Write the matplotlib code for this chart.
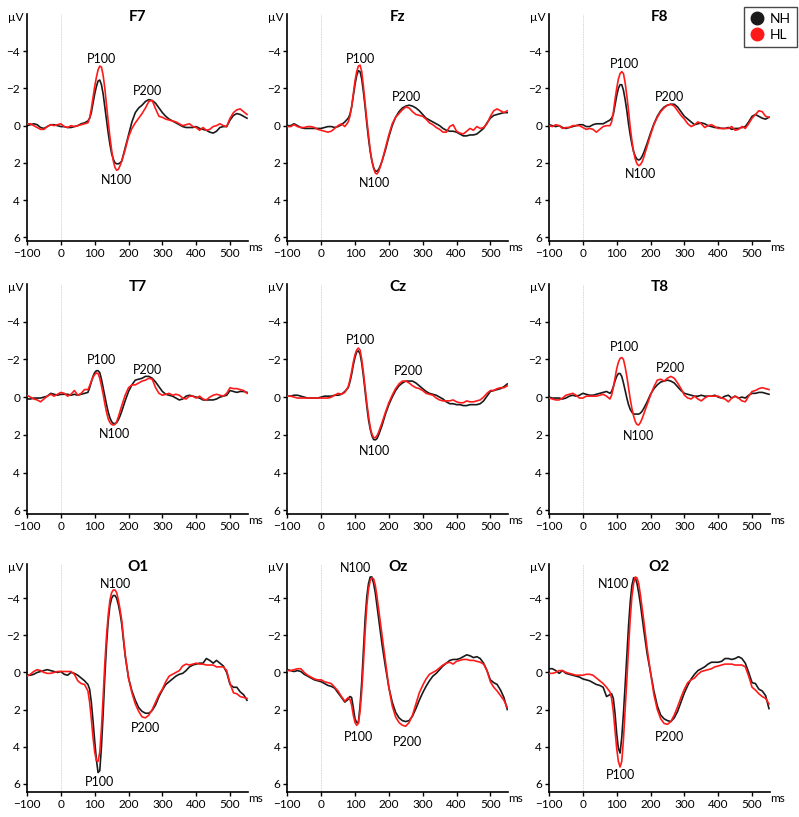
import matplotlib
matplotlib.use("Agg")
import matplotlib.pyplot as plt
from matplotlib.lines import Line2D

plt.rcParams['font.family'] = ['Lato', 'DejaVu Sans']

# sample times (ms)
times = list(range(-100, 81, 10)) + list(range(85, 181, 5)) + list(range(190, 551, 10))

channels = ["F7", "Fz", "F8", "T7", "Cz", "T8", "O1", "Oz", "O2"]

F7_NH = [0.0, -0.05, -0.1, -0.05, 0.1, 0.15, 0.05, -0.05, -0.05, 0.0, 0.05, 0.05, 0.1, 0.1, 0.05, 0.0, -0.1, -0.15, -0.25,
         -0.4, -0.7, -1.2, -1.7, -2.1, -2.4, -2.45, -2.2, -1.7, -1.0, -0.3, 0.4, 1.0, 1.5, 1.8, 2.0, 2.05, 2.05, 2.0, 1.9,
         1.2, 0.5, -0.2, -0.7, -0.95, -1.1, -1.3, -1.4, -1.35, -1.2,
         -0.95, -0.7, -0.5, -0.35, -0.25, -0.15, -0.05, 0.05, 0.1, 0.1,
         0.1, 0.05, 0.15, 0.2, 0.25, 0.35, 0.4, 0.3, 0.1, 0.05,
         0.05, -0.3, -0.55, -0.65, -0.6, -0.5, -0.4]
F7_HL = [-0.1, -0.1, 0.0, 0.1, 0.2, 0.2, 0.05, -0.05, 0.0, -0.05, -0.1, 0.05, 0.1, 0.0, 0.05, 0.0, -0.05, -0.1, -0.15,
         -0.4, -0.9, -1.5, -2.1, -2.6, -3.0, -3.2, -3.15, -2.7, -2.0, -1.1, -0.2, 0.6, 1.3, 1.9, 2.25, 2.4, 2.35, 2.15, 1.9,
         1.3, 0.6, 0.15, -0.15, -0.4, -0.65, -0.95, -1.3, -1.35, -0.9,
         -0.5, -0.45, -0.35, -0.3, -0.25, -0.2, -0.1, 0.0, -0.05, -0.1,
         0.05, 0.1, 0.25, 0.1, 0.25, 0.2, 0.05, 0.0, -0.1, 0.0,
         0.05, -0.4, -0.7, -0.85, -0.9, -0.75, -0.6]

Fz_NH = [0.0, 0.0, -0.1, 0.0, 0.1, 0.15, 0.15, 0.15, 0.15, 0.15, 0.15, 0.1, 0.05, 0.05, 0.1, 0.05, -0.05, -0.2, -0.4,
         -0.6, -1.0, -1.6, -2.2, -2.7, -2.95, -2.9, -2.5, -1.8, -1.0, -0.1, 0.7, 1.4, 1.9, 2.25, 2.45, 2.45, 2.35, 2.15, 1.9,
         1.3, 0.6, 0.0, -0.45, -0.75, -0.95, -1.05, -1.1, -1.05, -0.95,
         -0.8, -0.6, -0.4, -0.3, -0.2, -0.1, 0.0, 0.15, 0.25, 0.3,
         0.3, 0.35, 0.45, 0.55, 0.55, 0.5, 0.5, 0.45, 0.3, 0.15,
         -0.15, -0.4, -0.55, -0.6, -0.65, -0.7, -0.7]
Fz_HL = [0.05, 0.05, -0.05, 0.05, 0.1, 0.1, 0.05, 0.05, 0.1, 0.2, 0.25, 0.3, 0.35, 0.3, 0.15, 0.0, -0.1, 0.05, -0.2,
         -0.5, -1.0, -1.7, -2.4, -2.9, -3.2, -3.25, -2.9, -2.1, -1.2, -0.3, 0.5, 1.3, 1.9, 2.3, 2.55, 2.6, 2.45, 2.2, 1.9,
         1.2, 0.5, -0.1, -0.45, -0.65, -0.85, -1.0, -0.95, -0.75, -0.6,
         -0.55, -0.5, -0.35, -0.15, -0.05, 0.1, 0.2, 0.35, 0.35, 0.05,
         -0.05, 0.3, 0.4, 0.45, 0.3, 0.15, 0.25, 0.05, 0.15, 0.1,
         -0.1, -0.5, -0.8, -0.9, -0.8, -0.7, -0.8]

F8_NH = [-0.05, 0.0, 0.05, 0.0, 0.1, 0.15, 0.1, 0.05, 0.0, -0.05, -0.05, 0.05, 0.05, -0.05, -0.1, -0.1, -0.1, -0.2, -0.3,
         -0.4, -0.6, -1.1, -1.6, -2.0, -2.2, -2.2, -1.9, -1.4, -0.8, -0.1, 0.5, 1.0, 1.4, 1.65, 1.8, 1.85, 1.8, 1.65, 1.45,
         0.95, 0.4, -0.1, -0.5, -0.8, -1.0, -1.1, -1.15, -1.15, -1.0,
         -0.75, -0.5, -0.35, -0.2, -0.05, -0.1, -0.15, -0.1, 0.0, 0.05,
         0.1, 0.1, 0.15, 0.15, 0.1, 0.2, 0.15, 0.15, 0.1, 0.05,
         -0.2, -0.5, -0.6, -0.5, -0.4, -0.35, -0.45]
F8_HL = [0.0, 0.05, -0.05, 0.0, 0.15, 0.1, 0.1, 0.0, 0.0, 0.0, 0.1, 0.2, 0.15, 0.2, 0.35, 0.2, 0.05, 0.0, 0.0,
         -0.2, -0.7, -1.4, -2.0, -2.5, -2.8, -2.9, -2.8, -2.3, -1.6, -0.8, 0.1, 0.8, 1.4, 1.8, 2.05, 2.15, 2.1, 1.95, 1.7,
         1.1, 0.5, -0.05, -0.45, -0.75, -0.95, -1.1, -1.15, -1.05, -0.8,
         -0.55, -0.35, -0.1, 0.05, -0.05, -0.2, -0.1, 0.1, 0.0, -0.05,
         0.05, 0.15, 0.15, 0.15, 0.15, 0.05, 0.25, 0.2, 0.05, 0.15,
         -0.1, -0.4, -0.6, -0.8, -0.75, -0.5, -0.45]

T7_NH = [0.1, 0.1, 0.05, 0.05, 0.05, 0.0, -0.05, -0.2, -0.15, -0.1, -0.15, -0.15, -0.15, -0.1, -0.15, -0.1, -0.15, -0.2, -0.25,
         -0.5, -0.8, -1.1, -1.3, -1.4, -1.4, -1.3, -0.95, -0.5, -0.05, 0.4, 0.8, 1.1, 1.3, 1.4, 1.4, 1.35, 1.2, 1.0, 0.75,
         0.2, -0.3, -0.65, -0.9, -0.95, -1.0, -1.1, -1.1, -1.0, -0.8,
         -0.55, -0.3, -0.15, -0.1, -0.05, 0.05, 0.15, 0.1, -0.05, -0.1,
         -0.05, 0.0, 0.05, 0.15, 0.15, 0.15, 0.15, 0.1, 0.0, -0.05,
         -0.1, -0.35, -0.3, -0.25, -0.3, -0.3, -0.25]
T7_HL = [-0.1, 0.0, 0.1, 0.15, 0.25, 0.1, -0.05, -0.15, -0.05, -0.15, -0.25, -0.2, -0.05, -0.15, -0.35, -0.1, -0.2, -0.4, -0.4,
         -0.6, -0.85, -1.05, -1.2, -1.28, -1.25, -1.0, -0.6, -0.15, 0.35, 0.8, 1.15, 1.35, 1.45, 1.48, 1.45, 1.3, 1.05, 0.75, 0.45,
         -0.1, -0.5, -0.65, -0.65, -0.75, -0.85, -0.9, -1.0, -0.95, -0.5,
         -0.2, -0.1, -0.15, -0.2, -0.1, -0.15, -0.1, 0.05, 0.1, -0.05,
         -0.05, 0.05, -0.05, 0.1, 0.15, 0.0, -0.1, -0.15, -0.1, -0.05,
         -0.2, -0.5, -0.45, -0.45, -0.4, -0.35, -0.2]

Cz_NH = [-0.05, -0.05, -0.1, -0.1, -0.05, 0.0, 0.05, 0.05, 0.05, 0.05, 0.0, -0.05, -0.05, -0.05, -0.1, -0.1, -0.15, -0.3, -0.5,
         -0.8, -1.2, -1.7, -2.1, -2.4, -2.45, -2.3, -1.8, -1.1, -0.3, 0.5, 1.2, 1.7, 2.05, 2.25, 2.27, 2.2, 2.0, 1.75, 1.5,
         0.9, 0.4, 0.0, -0.35, -0.6, -0.75, -0.85, -0.85, -0.85, -0.75,
         -0.6, -0.45, -0.3, -0.2, -0.15, -0.1, 0.0, 0.1, 0.25, 0.35,
         0.35, 0.4, 0.4, 0.45, 0.45, 0.4, 0.4, 0.4, 0.35, 0.2,
         -0.05, -0.3, -0.35, -0.4, -0.45, -0.55, -0.7]
Cz_HL = [-0.05, -0.05, 0.0, 0.05, 0.05, 0.05, 0.05, 0.05, 0.05, 0.05, 0.05, 0.05, 0.05, 0.0, -0.1, -0.2, -0.15, -0.25, -0.55,
         -0.9, -1.35, -1.85, -2.25, -2.5, -2.6, -2.5, -2.0, -1.3, -0.5, 0.3, 1.0, 1.6, 1.95, 2.15, 2.15, 2.05, 1.85, 1.6, 1.35,
         0.8, 0.3, -0.1, -0.45, -0.7, -0.85, -0.85, -0.75, -0.6, -0.5,
         -0.45, -0.35, -0.2, -0.15, -0.1, 0.05, 0.15, 0.2, 0.2, 0.2,
         0.15, 0.25, 0.3, 0.3, 0.2, 0.25, 0.25, 0.2, 0.15, 0.0,
         -0.2, -0.35, -0.35, -0.45, -0.5, -0.5, -0.6]

T8_NH = [0.0, 0.05, 0.05, 0.05, 0.1, 0.05, -0.05, -0.1, -0.05, -0.1, -0.2, -0.15, -0.1, -0.1, -0.15, -0.2, -0.25, -0.3, -0.2,
         -0.3, -0.55, -0.85, -1.1, -1.25, -1.25, -1.1, -0.75, -0.35, 0.05, 0.4, 0.65, 0.8, 0.9, 0.9, 0.9, 0.9, 0.85, 0.75, 0.6,
         0.25, -0.15, -0.45, -0.65, -0.8, -0.85, -0.9, -0.85, -0.75, -0.55,
         -0.35, -0.2, -0.15, -0.1, -0.05, -0.05, -0.1, -0.05, -0.05, -0.05,
         -0.1, 0.0, 0.05, -0.05, -0.1, 0.05, -0.05, 0.05, 0.0, 0.05,
         -0.1, -0.2, -0.2, -0.25, -0.25, -0.2, -0.15]
T8_HL = [0.05, 0.1, 0.15, 0.15, 0.05, -0.1, -0.15, -0.2, -0.1, 0.05, 0.05, -0.05, -0.05, -0.05, -0.05, -0.1, -0.15, -0.05, 0.1,
         -0.1, -0.5, -1.0, -1.5, -1.85, -2.05, -2.1, -2.0, -1.6, -1.1, -0.5, 0.1, 0.6, 1.0, 1.3, 1.45, 1.48, 1.35, 1.15, 0.9,
         0.4, -0.1, -0.55, -0.9, -0.95, -0.85, -1.0, -1.1, -1.0, -0.75,
         -0.45, -0.1, 0.05, 0.1, -0.05, 0.1, 0.2, 0.05, -0.05, -0.05,
         -0.05, -0.05, 0.05, 0.1, 0.25, 0.05, -0.05, 0.05, 0.2, 0.25,
         -0.05, -0.3, -0.35, -0.45, -0.5, -0.45, -0.4]

O1_NH = [0.15, 0.15, 0.1, 0.0, -0.05, -0.1, -0.15, -0.1, -0.05, 0.0, -0.05, 0.1, 0.15, 0.0, 0.05, 0.15, 0.3, 0.45, 0.65,
         0.9, 1.6, 2.6, 3.7, 4.7, 5.4, 5.3, 4.0, 2.2, 0.2, -1.5, -2.8, -3.6, -4.0, -4.15, -4.15, -4.0, -3.65, -3.2, -2.6,
         -0.9, 0.3, 1.0, 1.5, 1.9, 2.1, 2.2, 2.2, 2.05, 1.75,
         1.3, 0.95, 0.65, 0.5, 0.35, 0.2, 0.1, 0.05, -0.1, -0.3,
         -0.4, -0.45, -0.5, -0.5, -0.75, -0.65, -0.5, -0.65, -0.5, -0.35,
         0.0, 0.65, 0.8, 0.8, 1.05, 1.2, 1.5]
O1_HL = [0.2, 0.1, -0.05, -0.15, -0.1, 0.0, 0.05, 0.05, 0.0, -0.05, -0.05, -0.05, -0.05, -0.05, 0.1, 0.45, 0.6, 0.65, 1.0,
         1.6, 2.5, 3.5, 4.3, 4.75, 4.8, 4.3, 3.0, 1.3, -0.5, -2.0, -3.1, -3.9, -4.3, -4.45, -4.45, -4.3, -3.9, -3.4, -2.8,
         -1.0, 0.3, 1.1, 1.7, 2.1, 2.4, 2.45, 2.3, 2.0, 1.6,
         1.2, 0.9, 0.5, 0.2, 0.1, 0.0, -0.1, -0.35, -0.45, -0.4,
         -0.45, -0.5, -0.45, -0.45, -0.4, -0.4, -0.4, -0.3, -0.3, -0.3,
         -0.1, 0.6, 1.1, 1.15, 1.3, 1.35, 1.4]

Oz_NH = [-0.15, -0.1, -0.05, -0.1, -0.05, 0.1, 0.2, 0.3, 0.4, 0.45, 0.5, 0.6, 0.7, 0.75, 0.85, 1.1, 1.35, 1.6, 1.45,
         1.3, 1.35, 1.9, 2.5, 2.7, 2.7, 1.8, 0.5, -1.2, -2.9, -4.1, -4.8, -5.15, -5.15, -4.8, -4.3, -3.6, -2.9, -2.2, -1.5,
         -0.3, 0.8, 1.6, 2.15, 2.45, 2.6, 2.65, 2.6, 2.35, 1.95,
         1.5, 1.1, 0.75, 0.45, 0.2, 0.05, -0.15, -0.35, -0.5, -0.65,
         -0.7, -0.7, -0.75, -0.85, -0.95, -0.9, -0.8, -0.85, -0.75, -0.5,
         -0.1, 0.4, 0.55, 0.65, 0.95, 1.35, 2.0]
Oz_HL = [-0.1, -0.1, -0.15, -0.2, -0.2, 0.0, 0.15, 0.25, 0.35, 0.4, 0.4, 0.5, 0.55, 0.6, 0.8, 1.0, 1.3, 1.55, 1.35,
         1.45, 1.75, 2.3, 2.7, 2.85, 2.75, 2.1, 1.0, -0.5, -2.2, -3.6, -4.5, -4.95, -5.1, -5.05, -4.7, -4.1, -3.4, -2.7, -2.0,
         -0.6, 0.8, 1.8, 2.4, 2.7, 2.85, 2.9, 2.7, 2.3, 1.7,
         1.1, 0.7, 0.35, 0.1, 0.0, -0.1, -0.25, -0.4, -0.5, -0.55,
         -0.45, -0.6, -0.65, -0.7, -0.7, -0.65, -0.65, -0.6, -0.55, -0.45,
         -0.1, 0.5, 0.8, 1.0, 1.25, 1.5, 1.9]

O2_NH = [-0.2, -0.2, -0.1, 0.05, -0.1, 0.05, 0.1, 0.15, 0.2, 0.25, 0.35, 0.4, 0.45, 0.55, 0.65, 0.7, 0.8, 1.3, 1.2,
         1.15, 1.4, 2.2, 3.3, 4.1, 4.35, 3.5, 2.2, 0.7, -0.9, -2.5, -3.8, -4.7, -5.1, -5.1, -4.8, -4.3, -3.7, -3.0, -2.3,
         -1.0, 0.0, 1.0, 1.8, 2.3, 2.5, 2.6, 2.65, 2.45, 2.1,
         1.6, 1.1, 0.7, 0.35, 0.1, -0.1, -0.2, -0.3, -0.45, -0.55,
         -0.55, -0.55, -0.6, -0.75, -0.75, -0.7, -0.75, -0.85, -0.75, -0.5,
         0.0, 0.55, 0.6, 0.9, 1.0, 1.25, 1.95]
O2_HL = [0.05, 0.05, 0.0, -0.1, -0.1, 0.0, 0.05, 0.1, 0.15, 0.15, 0.15, 0.1, 0.1, 0.15, 0.3, 0.45, 0.6, 0.8, 1.05,
         1.4, 2.1, 3.1, 4.1, 4.8, 5.1, 4.8, 3.6, 2.0, 0.4, -1.3, -2.9, -4.1, -4.8, -5.15, -5.1, -4.8, -4.2, -3.5, -2.8,
         -1.3, 0.0, 1.2, 2.0, 2.5, 2.75, 2.8, 2.65, 2.3, 1.85,
         1.35, 0.9, 0.55, 0.4, 0.3, 0.1, -0.05, -0.1, -0.15, -0.2,
         -0.3, -0.35, -0.4, -0.45, -0.45, -0.45, -0.4, -0.4, -0.4, -0.3,
         0.2, 0.8, 0.95, 1.15, 1.3, 1.4, 1.7]

series_NH = {"F7": F7_NH, "Fz": Fz_NH, "F8": F8_NH, "T7": T7_NH, "Cz": Cz_NH,
             "T8": T8_NH, "O1": O1_NH, "Oz": Oz_NH, "O2": O2_NH}
series_HL = {"F7": F7_HL, "Fz": Fz_HL, "F8": F8_HL, "T7": T7_HL, "Cz": Cz_HL,
             "T8": T8_HL, "O1": O1_HL, "Oz": Oz_HL, "O2": O2_HL}

# component label placements (time, value)
labels = {
    "F7": [("P100", 120, -3.6), ("N100", 165, 2.9), ("P200", 255, -1.85)],
    "Fz": [("P100", 117, -3.57), ("N100", 159, 3.1), ("P200", 251, -1.52)],
    "F8": [("P100", 123, -3.3), ("N100", 169, 2.6), ("P200", 257, -1.55)],
    "T7": [("P100", 120, -1.96), ("N100", 159, 1.98), ("P200", 255, -1.46)],
    "Cz": [("P100", 117, -3.04), ("N100", 159, 2.86), ("P200", 257, -1.37)],
    "T8": [("P100", 122, -2.68), ("N100", 163, 2.05), ("P200", 258, -1.52)],
    "O1": [("N100", 162, -4.77), ("P100", 113, 5.9), ("P200", 250, 3.02)],
    "Oz": [("N100", 102, -5.64), ("P100", 109, 3.5), ("P200", 256, 3.73)],
    "O2": [("N100", 90, -4.77), ("P100", 112, 5.54), ("P200", 255, 3.47)],
}

W, H = 799, 817
fig = plt.figure(figsize=(W / 100, H / 100), dpi=100)

col_left = [27, 287.3, 549]
ax_w = 221
rows = [(14, 241, (6.2, -6.0)), (284, 514, (6.2, -6.0)), (564, 792, (6.45, -5.85))]

for i, ch in enumerate(channels):
    r, c = divmod(i, 3)
    top, bot, ylim = rows[r]
    ax = fig.add_axes([col_left[c] / W, 1 - bot / H, ax_w / W, (bot - top) / H])
    ax.axvline(0, color='#c8c8c8', lw=0.6, ls=(0, (1, 1)), zorder=0)
    ax.plot(times, series_NH[ch], color='#1a1a1a', lw=1.2, zorder=2)
    ax.plot(times, series_HL[ch], color='#ff1a1a', lw=1.2, zorder=3)
    ax.set_xlim(-100, 553)
    ax.set_ylim(*ylim)
    ax.set_xticks([-100, 0, 100, 200, 300, 400, 500])
    ax.set_yticks([-4, -2, 0, 2, 4, 6])
    for s in ['top', 'right']:
        ax.spines[s].set_visible(False)
    for s in ['left', 'bottom']:
        ax.spines[s].set_linewidth(1.2)
    ax.tick_params(direction='out', length=3, width=1, labelsize=8.5, pad=2)
    ax.text(0.5, 0.985, ch, transform=ax.transAxes, ha='center', va='center',
            fontsize=11, fontweight='bold')
    ax.text(-0.015, 0.985, "µV", transform=ax.transAxes, ha='right', va='center', fontsize=8.5)
    ax.text(1.0, -0.005, "ms", transform=ax.transAxes, ha='left', va='top', fontsize=8.5)
    for lab, t, v in labels[ch]:
        ax.text(t, v, lab, ha='center', va='center', fontsize=9)

handles = [Line2D([], [], marker='o', color='#1a1a1a', ls='none', ms=9),
           Line2D([], [], marker='o', color='#ff1a1a', ls='none', ms=9)]
leg = fig.legend(handles, ["NH", "HL"], loc='upper right', bbox_to_anchor=(797 / W, 1 - 7 / H),
                 frameon=True, fancybox=False, edgecolor='#1a1a1a', fontsize=10,
                 handletextpad=0.4, borderpad=0.45, labelspacing=0.25, handlelength=1.0,
                 borderaxespad=0)
leg.get_frame().set_linewidth(1.0)

fig.savefig("out.png", dpi=100)
